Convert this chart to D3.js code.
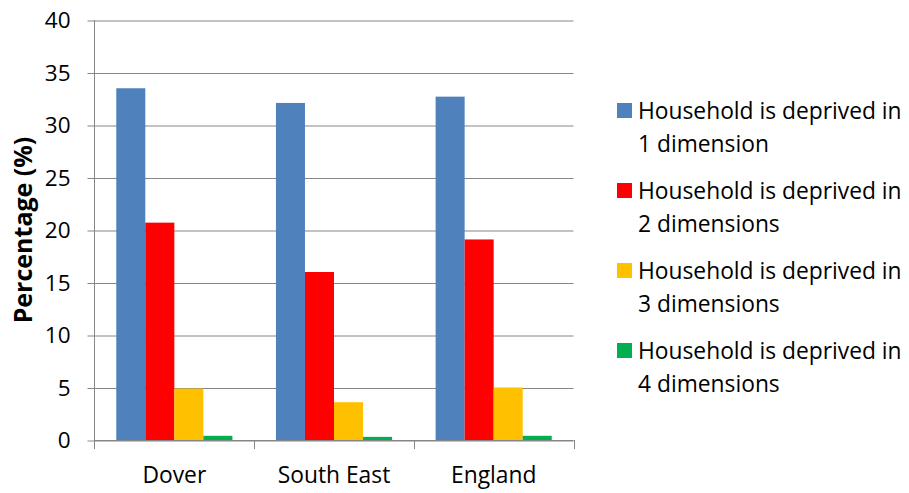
<!DOCTYPE html>
<html>
<head>
<meta charset="utf-8">
<script src="https://cdn.jsdelivr.net/npm/d3@7"></script>
<style>
  html, body { margin: 0; padding: 0; background: #fff; }
  svg { display: block; }
  text { font-family: "Open Sans", sans-serif; fill: #000; }
</style>
</head>
<body>
<svg id="chart" width="909" height="493"></svg>
<script>
const categories = ["Dover", "South East", "England"];
const seriesNames = [
  ["Household is deprived in", "1 dimension"],
  ["Household is deprived in", "2 dimensions"],
  ["Household is deprived in", "3 dimensions"],
  ["Household is deprived in", "4 dimensions"]
];
const series1 = [33.5, 32.1, 32.7];
const series2 = [20.7, 16.0, 19.1];
const series3 = [4.9, 3.6, 5.0];
const series4 = [0.4, 0.3, 0.4];
const yTicks = [0, 5, 10, 15, 20, 25, 30, 35, 40];
const colors = ["#4F81BD", "#FF0000", "#FFC000", "#00B050"];

(function () {
const allSeries = [series1, series2, series3, series4];
const svg = d3.select("#chart");

const pLeft = 94.5, pRight = 573.5, pTop = 20, pBottom = 440;
const y = d3.scaleLinear().domain([0, 40]).range([pBottom, pTop]);
const x0 = d3.scaleBand().domain(categories).range([pLeft, pRight]).padding(0);
const x1 = d3.scaleBand().domain(d3.range(4)).range([0, x0.bandwidth()])
  .paddingInner(0).paddingOuter(0.75);

const gridColor = "#868686";

// gridlines + left ticks
const yAxis = d3.axisLeft(y).tickValues(yTicks).tickSize(pRight - pLeft + 7)
  .tickPadding(17).tickFormat(d3.format("d"));
const gy = svg.append("g").attr("transform", `translate(${pRight},0)`).call(yAxis);
gy.select(".domain").remove();
gy.selectAll(".tick line").attr("stroke", gridColor).attr("stroke-width", 1)
  .attr("transform", "translate(0,0.5)");
gy.selectAll(".tick text").attr("font-size", "22.5px").attr("fill", "#000")
  .attr("font-family", "Open Sans, sans-serif").attr("dy", "0.35em");

// bars
const groups = svg.append("g").selectAll("g").data(categories).join("g")
  .attr("transform", d => `translate(${x0(d)},0)`);
groups.selectAll("rect")
  .data((c, ci) => allSeries.map((s, si) => ({si, v: s[ci]})))
  .join("rect")
  .attr("x", d => x1(d.si))
  .attr("width", x1.bandwidth())
  .attr("y", d => y(d.v))
  .attr("height", d => y(0) - y(d.v))
  .attr("fill", d => colors[d.si]);

// left axis line
svg.append("line").attr("x1", pLeft).attr("x2", pLeft).attr("y1", pTop).attr("y2", pBottom + 9)
  .attr("stroke", gridColor).attr("stroke-width", 1);
// baseline
svg.append("line").attr("x1", pLeft).attr("x2", pRight).attr("y1", y(0) + 0.5).attr("y2", y(0) + 0.5)
  .attr("stroke", gridColor).attr("stroke-width", 1);

// x axis category labels
const xAxis = d3.axisBottom(x0).tickSize(0).tickPadding(0);
const gx = svg.append("g").attr("transform", `translate(0,${pBottom})`).call(xAxis);
gx.select(".domain").remove();
gx.selectAll(".tick text").attr("font-size", "22.8px").attr("fill", "#000")
  .attr("font-family", "Open Sans, sans-serif").attr("y", 43).attr("dy", 0);
const boundaries = categories.map(c => x0(c)).concat([x0(categories[categories.length - 1]) + x0.bandwidth()]);
svg.append("g").selectAll("line").data(boundaries.slice(1)).join("line")
  .attr("x1", d => Math.round(d) + 0.5).attr("x2", d => Math.round(d) + 0.5)
  .attr("y1", pBottom).attr("y2", pBottom + 9)
  .attr("stroke", gridColor).attr("stroke-width", 1);

// y axis title
svg.append("text")
  .attr("transform", "translate(32,230) rotate(-90)")
  .attr("text-anchor", "middle")
  .attr("font-family", "Liberation Sans, Arial, sans-serif")
  .attr("font-weight", "bold")
  .attr("font-size", "25px")
  .text("Percentage (%)");

// legend
const legend = svg.append("g");
const items = legend.selectAll("g").data(seriesNames).join("g")
  .attr("transform", (d, i) => `translate(617,${119 + i * 80})`);
items.append("rect").attr("x", 0).attr("y", -16).attr("width", 15).attr("height", 15)
  .attr("fill", (d, i) => colors[i]);
items.append("text").attr("x", 21).attr("y", 0).attr("font-size", "22.8px")
  .selectAll("tspan").data(d => d).join("tspan")
  .attr("x", 21).attr("dy", (d, i) => i === 0 ? 0 : 32.5)
  .text(d => d);
})();
</script>
</body>
</html>
